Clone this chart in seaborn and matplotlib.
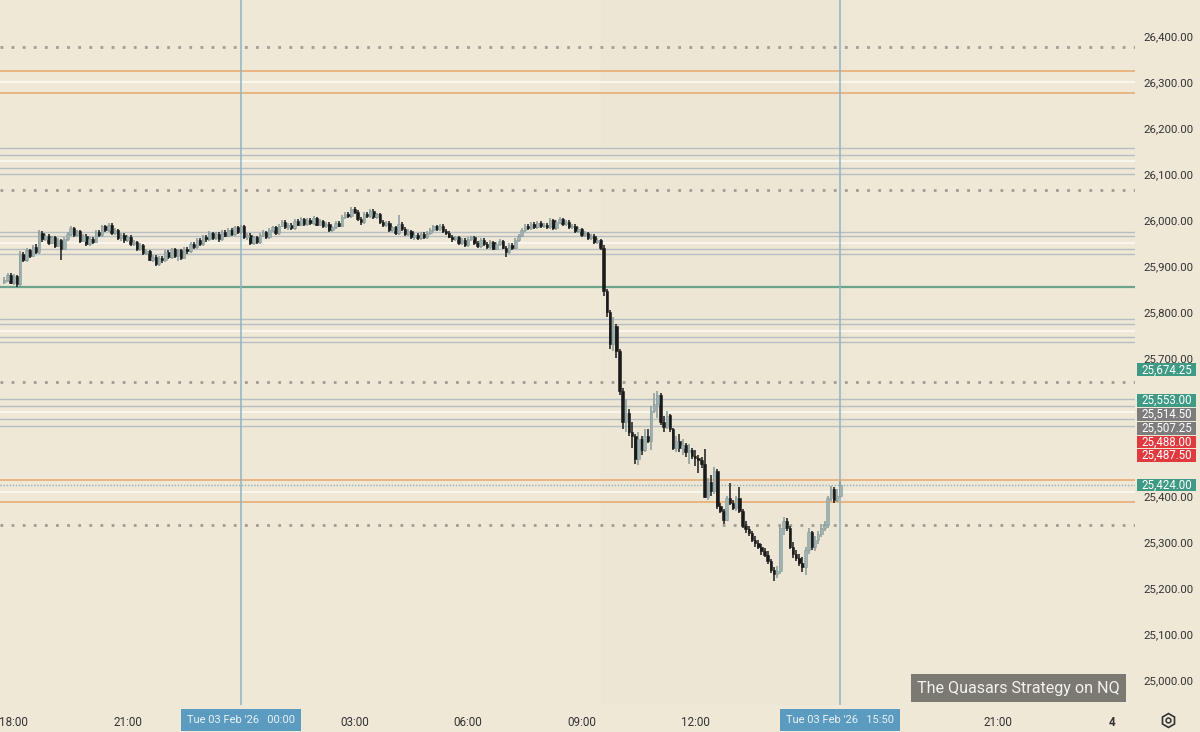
import numpy as np
import pandas as pd
import matplotlib
matplotlib.use("Agg")
import matplotlib.pyplot as plt
import matplotlib.transforms as mtransforms
from matplotlib.patches import Rectangle
import seaborn as sns

# ---------------- data (5-minute NQ bars) ----------------
first_open = 25866
closes = [
    25870,
    25880, 25864, 25878, 25860, 25925, 25912, 25935, 25922, 25942, 25930,
    25972, 25958, 25966, 25950, 25962, 25944, 25956, 25938, 25958, 25970,
    25982, 25968, 25975, 25955, 25966, 25948, 25958, 25952, 25974, 25968,
    25986, 25978, 25990, 25972, 25978, 25960, 25968, 25956, 25964, 25948,
    25952, 25936, 25945, 25928, 25932, 25914, 25920, 25904, 25918, 25912,
    25930, 25920, 25936, 25922, 25934, 25918, 25938, 25932, 25948, 25942,
    25956, 25948, 25964, 25958, 25972, 25960, 25970, 25958, 25974, 25966,
    25978, 25970, 25984, 25974, 25986, 25962, 25968, 25950, 25962, 25952,
    25968, 25974, 25962, 25978, 25984, 25972, 25988, 25996, 25984, 25990,
    25982, 25998, 25990, 26002, 25992, 26000, 25994, 26004, 25990, 25998,
    25986, 25992, 25978, 25984, 25994, 25988, 26006, 26014, 26008, 26024,
    26018, 26002, 25996, 26014, 26008, 26020, 26006, 26012, 25996, 25990,
    25994, 25978, 25984, 25972, 25992, 25980, 25970, 25976, 25962, 25968,
    25960, 25970, 25962, 25972, 25978, 25986, 25980, 25988, 25976, 25972,
    25964, 25958, 25962, 25950, 25956, 25946, 25958, 25962, 25950, 25944,
    25956, 25948, 25942, 25952, 25938, 25948, 25954, 25940, 25930, 25946,
    25940, 25956, 25966, 25978, 25988, 25982, 25992, 25984, 25994, 25986,
    25990, 25984, 26000, 25982, 25996, 26002, 25992, 25996, 25984, 25988,
    25976, 25980, 25968, 25972, 25960, 25966, 25952, 25956, 25940, 25845,
    25800, 25730, 25770, 25715, 25628, 25560, 25580, 25540, 25530, 25480,
    25525, 25500, 25530, 25520, 25585, 25600, 25620, 25560, 25550, 25575,
    25545, 25505, 25520, 25505, 25510, 25495, 25500, 25488, 25482, 25478,
    25470, 25398, 25430, 25410, 25455, 25378, 25368, 25348, 25395, 25385,
    25375, 25395, 25368, 25335, 25328, 25320, 25305, 25298, 25290, 25280,
    25272, 25258, 25240, 25230, 25236, 25330, 25345, 25330, 25290, 25275,
    25265, 25255, 25245, 25283, 25322, 25290, 25305, 25318, 25330, 25336,
    25395, 25415, 25392, 25400, 25424,
]
highs = [
    25876,
    25884, 25885, 25882, 25881, 25932, 25930, 25940, 25938, 25946, 25947,
    25978, 25976, 25970, 25969, 25966, 25965, 25960, 25959, 25962, 25975,
    25987, 25985, 25979, 25978, 25970, 25969, 25962, 25962, 25978, 25978,
    25990, 25990, 25994, 25993, 25982, 25981, 25972, 25971, 25968, 25967,
    25957, 25955, 25949, 25948, 25936, 25935, 25924, 25923, 25922, 25922,
    25934, 25934, 25940, 25939, 25938, 25937, 25942, 25942, 25952, 25952,
    25960, 25960, 25968, 25968, 25976, 25975, 25974, 25973, 25978, 25978,
    25982, 25982, 25988, 25988, 25990, 25989, 25972, 25971, 25966, 25966,
    25972, 25978, 25977, 25982, 25988, 25987, 25992, 26000, 25999, 25994,
    25994, 26002, 26002, 26006, 26005, 26004, 26004, 26008, 26007, 26002,
    26001, 25996, 25995, 25988, 25998, 25998, 26010, 26018, 26018, 26029,
    26028, 26021, 26006, 26018, 26018, 26024, 26023, 26016, 26015, 26000,
    25998, 25997, 25988, 25988, 26010, 25996, 25984, 25980, 25979, 25972,
    25972, 25974, 25974, 25976, 25982, 25990, 25990, 25992, 25991, 25980,
    25976, 25968, 25966, 25965, 25960, 25960, 25962, 25966, 25965, 25954,
    25960, 25960, 25952, 25956, 25955, 25952, 25958, 25957, 25944, 25950,
    25950, 25960, 25970, 25982, 25992, 25992, 25996, 25996, 25998, 25998,
    25994, 25994, 26004, 26003, 26000, 26006, 26005, 26000, 25999, 25992,
    25991, 25984, 25983, 25976, 25975, 25970, 25969, 25960, 25959, 25945,
    25850, 25805, 25790, 25775, 25720, 25635, 25610, 25590, 25560, 25535,
    25540, 25530, 25545, 25545, 25595, 25625, 25628, 25624, 25575, 25585,
    25578, 25548, 25530, 25535, 25525, 25515, 25512, 25505, 25500, 25490,
    25485, 25502, 25440, 25445, 25462, 25458, 25385, 25372, 25400, 25428,
    25392, 25400, 25420, 25372, 25345, 25335, 25325, 25312, 25305, 25295,
    25288, 25280, 25262, 25245, 25248, 25335, 25354, 25352, 25335, 25300,
    25282, 25275, 25268, 25290, 25330, 25325, 25312, 25325, 25340, 25345,
    25400, 25422, 25420, 25415, 25432,
]
lows = [
    25861,
    25866, 25860, 25859, 25855, 25857, 25908, 25909, 25918, 25919, 25926,
    25927, 25953, 25954, 25945, 25947, 25940, 25941, 25913, 25934, 25955,
    25966, 25964, 25963, 25951, 25952, 25944, 25944, 25947, 25949, 25963,
    25964, 25974, 25975, 25968, 25967, 25956, 25955, 25951, 25952, 25944,
    25943, 25932, 25932, 25924, 25923, 25910, 25909, 25899, 25900, 25907,
    25908, 25916, 25916, 25918, 25910, 25914, 25915, 25927, 25928, 25937,
    25938, 25944, 25944, 25953, 25954, 25956, 25956, 25953, 25954, 25962,
    25962, 25966, 25966, 25970, 25970, 25958, 25957, 25946, 25946, 25948,
    25948, 25964, 25958, 25958, 25974, 25968, 25968, 25984, 25980, 25979,
    25978, 25978, 25986, 25986, 25988, 25988, 25990, 25990, 25986, 25986,
    25982, 25982, 25974, 25973, 25980, 25984, 25984, 26002, 26004, 26004,
    26013, 25997, 25990, 25992, 26004, 26004, 26002, 26002, 25992, 25985,
    25985, 25974, 25973, 25968, 25968, 25976, 25966, 25966, 25958, 25957,
    25956, 25956, 25958, 25958, 25968, 25974, 25976, 25976, 25972, 25967,
    25960, 25953, 25954, 25946, 25946, 25942, 25942, 25954, 25946, 25939,
    25940, 25944, 25937, 25938, 25934, 25934, 25944, 25936, 25920, 25926,
    25935, 25936, 25952, 25962, 25974, 25978, 25978, 25980, 25980, 25982,
    25982, 25980, 25980, 25978, 25978, 25992, 25988, 25988, 25980, 25980,
    25972, 25972, 25964, 25964, 25956, 25956, 25948, 25948, 25935, 25835,
    25790, 25720, 25715, 25700, 25620, 25545, 25540, 25530, 25505, 25470,
    25468, 25490, 25495, 25515, 25500, 25580, 25570, 25555, 25540, 25545,
    25540, 25500, 25495, 25495, 25490, 25485, 25470, 25480, 25465, 25450,
    25460, 25395, 25392, 25400, 25405, 25372, 25362, 25340, 25345, 25380,
    25370, 25368, 25362, 25330, 25320, 25312, 25300, 25290, 25285, 25272,
    25268, 25252, 25232, 25215, 25222, 25230, 25315, 25325, 25285, 25265,
    25258, 25248, 25235, 25228, 25275, 25283, 25280, 25295, 25310, 25325,
    25330, 25390, 25385, 25388, 25395,
]
last_bar_hour = 15 + 50 / 60          # Tue 03 Feb '26 15:50
bar_minutes = 5
rth_open_hour, rth_close_hour = 9.5, 16.0

price_ticks = [26400, 26300, 26200, 26100, 26000, 25900, 25800, 25700,
               25400, 25300, 25200, 25100, 25000]
time_tick_hours = [-6, -3, 3, 6, 9, 12, 20, 23]
time_tick_labels = ["18:00", "21:00", "03:00", "06:00", "09:00", "12:00", "21:00", "4"]
marker_hours = [0.0, last_bar_hour]
marker_labels = ["Tue 03 Feb '26   00:00", "Tue 03 Feb '26   15:50"]

grey_levels = [26156, 26141, 26113, 26100, 25975, 25965, 25937, 25927,
               25784, 25773, 25745, 25735, 25611, 25596, 25567, 25553]
white_levels = [26300, 26128, 25951, 25759, 25582, 25409]
orange_levels = [26324, 26276, 25435, 25387]
dotted_levels = [26376, 26065, 25648, 25337]
green_level = 25855
last_price = 25424.00

badge_values = [25674.25, 25553.00, 25514.50, 25507.25, 25488.00, 25487.50, 25424.00]
badge_kinds = ["green", "green", "grey", "grey", "red", "red", "green"]
watermark = "The Quasars Strategy on NQ"

# ---------------- style ----------------
BG = "#EFE8D7"
RTH_BG = "#EDE6D4"
UP = "#9DB2B1"
UP_WICK = "#879B9B"
DOWN = "#1A1A1A"
badge_colors = {"green": "#3E9A84", "grey": "#7C7C7C", "red": "#E0393E"}

sns.set_theme(style="white")
plt.rcParams["font.family"] = ["Roboto", "DejaVu Sans"]

W, H = 1200, 732
fig = plt.figure(figsize=(W / 100, H / 100), dpi=100, facecolor=BG)
ax_left_px, ax_right_px, ax_top_px, ax_bot_px = 0, 1135, 0, 705
ax = fig.add_axes([ax_left_px / W, 1 - ax_bot_px / H,
                   (ax_right_px - ax_left_px) / W, (ax_bot_px - ax_top_px) / H])
ax.set_facecolor(BG)

px_per_hour = 37.85
x0_px = 241
ax.set_xlim((ax_left_px - x0_px) / px_per_hour, (ax_right_px - x0_px) / px_per_hour)
px_per_pt = 0.46
ax.set_ylim(26000 - (ax_bot_px - 220) / px_per_pt, 26000 + (220 - ax_top_px) / px_per_pt)

# session shading
ax.axvspan(rth_open_hour, rth_close_hour, color=RTH_BG, lw=0, zorder=0)

# bars dataframe
N = len(closes)
hours = last_bar_hour - (N - 1 - np.arange(N)) * bar_minutes / 60
opens = np.r_[first_open, closes[:-1]]
df = pd.DataFrame({"hour": hours, "open": opens, "high": highs, "low": lows, "close": closes})
df["up"] = df["close"] >= df["open"]
df["body_lo"] = df[["open", "close"]].min(axis=1)
df["body_h"] = (df["close"] - df["open"]).abs().clip(lower=1.5)

# horizontal levels
for lv in grey_levels:
    ax.axhline(lv, color="#B6BEC2", lw=1.0, zorder=1)
for lv in white_levels:
    ax.axhline(lv, color="#FBF8F0", lw=1.3, zorder=1)
for lv in orange_levels:
    ax.axhline(lv, color="#E7A86C", lw=1.1, zorder=1)
for lv in dotted_levels:
    ax.axhline(lv, color="#A19D95", lw=2.0, ls=(0, (1, 3)), zorder=1)
ax.axhline(green_level, color="#6BA48D", lw=1.6, zorder=1)
ax.axhline(last_price, color="#8FB1B9", lw=1.0, ls=(0, (1, 1.2)), zorder=1)

for hv in marker_hours:
    ax.axvline(hv, color="#8DB4C6", lw=1.1, zorder=1.5)

# candles
w = 0.8 * bar_minutes / 60
for is_up, sub in df.groupby("up"):
    ax.vlines(sub["hour"], sub["low"], sub["high"],
              colors=UP_WICK if is_up else DOWN, lw=1.1, zorder=3)
    ax.bar(sub["hour"], sub["body_h"], bottom=sub["body_lo"], width=w,
           color=UP if is_up else DOWN, edgecolor=UP_WICK if is_up else DOWN,
           linewidth=0.4, zorder=4)

for s in ax.spines.values():
    s.set_visible(False)

# y axis on the right
ax.yaxis.tick_right()
ax.set_yticks(price_ticks)
ax.set_yticklabels([f"{v:,.2f}" for v in price_ticks])
ax.tick_params(axis="y", length=0, pad=6, labelsize=8.2, labelcolor="#333333")

# x axis
ax.set_xticks(time_tick_hours)
ax.set_xticklabels(time_tick_labels)
ax.tick_params(axis="x", length=0, pad=8, labelsize=8.4, labelcolor="#333333")
for lbl in ax.get_xticklabels():
    if lbl.get_text() == "4":
        lbl.set_fontweight("bold")
ax.grid(False)

# date markers on the time axis
trans_x = mtransforms.blended_transform_factory(ax.transData, ax.transAxes)
for hv, txt in zip(marker_hours, marker_labels):
    ax.text(hv, -(720 - ax_bot_px) / (ax_bot_px - ax_top_px), txt, transform=trans_x,
            ha="center", va="center", fontsize=8, color="#EAF2F6", clip_on=False, zorder=6,
            bbox=dict(boxstyle="square,pad=0.55", fc="#5B9BBF", ec="none"))

# price badges (stacked so they do not overlap)
trans_y = mtransforms.blended_transform_factory(ax.transAxes, ax.transData)
slot = 13.75 / px_per_pt
order = np.argsort(badge_values)
placed = {}
prev = None
for k in order:
    v = badge_values[k]
    y = v if prev is None else max(v, prev + slot)
    placed[k] = y
    prev = y
ax_w_px = ax_right_px - ax_left_px
bx0 = (1137 - ax_left_px) / ax_w_px
bw = (1196 - 1137) / ax_w_px
bh = 12.8 / px_per_pt
for k, v in enumerate(badge_values):
    y = placed[k]
    ax.add_patch(Rectangle((bx0, y - bh / 2), bw, bh, transform=trans_y,
                           fc=badge_colors[badge_kinds[k]], ec="none",
                           clip_on=False, zorder=7))
    ax.text(bx0 + bw / 2, y, f"{v:,.2f}", transform=trans_y, ha="center", va="center",
            fontsize=8.3, color="white", clip_on=False, zorder=8)

# watermark
fig.text((909 + 1128) / 2 / W, 1 - 688 / H, watermark, ha="center", va="center",
         fontsize=11.6, color="#F4F2EE",
         bbox=dict(boxstyle="square,pad=0.38", fc="#7B7972", ec="none"))

# settings icon
gx, gy = 1168 / W, 1 - 720 / H
fig.add_artist(plt.Line2D([gx], [gy], marker="h", markersize=10, mfc="none",
                          mec="#333333", mew=1.2, transform=fig.transFigure))
fig.add_artist(plt.Line2D([gx], [gy], marker="o", markersize=3.5, mfc="none",
                          mec="#333333", mew=1.1, transform=fig.transFigure))

fig.savefig("out.png", dpi=100, facecolor=BG)
